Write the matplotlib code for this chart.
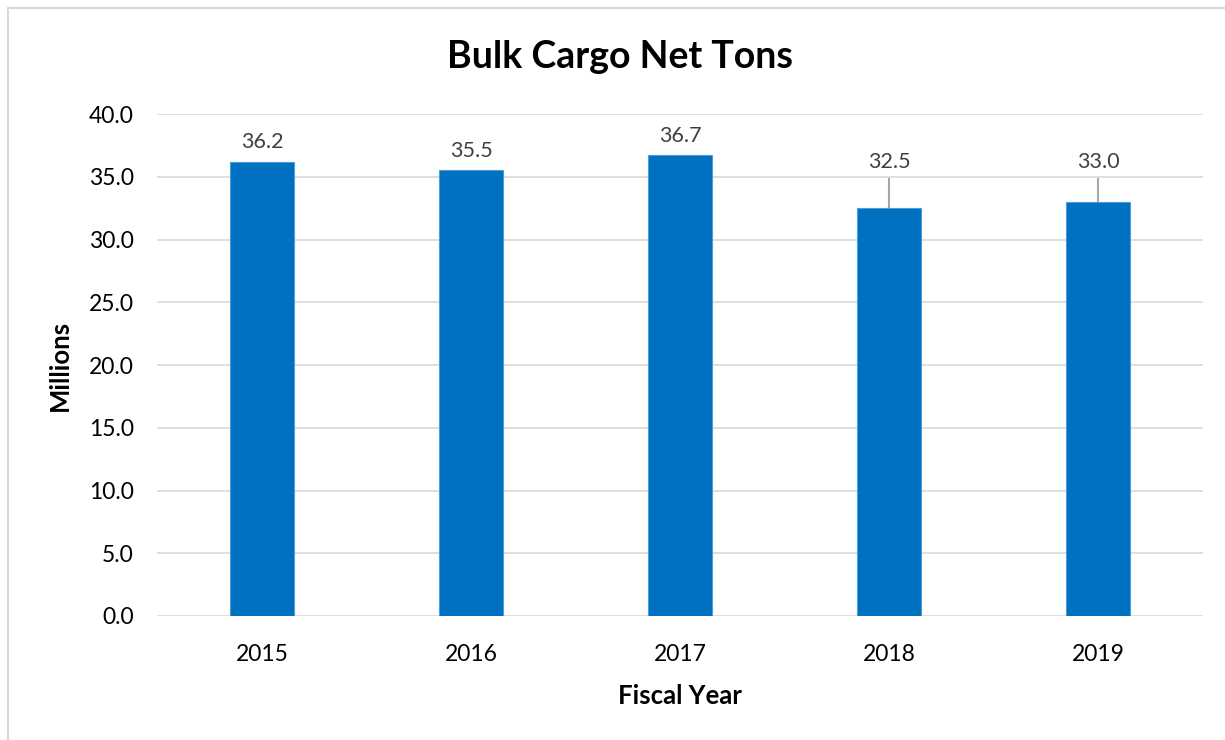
import matplotlib.pyplot as plt
from matplotlib.patches import Rectangle

years = ["2015", "2016", "2017", "2018", "2019"]
tons = [36.2, 35.5, 36.7, 32.5, 33.0]
# labels lifted above the gridline with a leader line
leader_label_y = [None, None, None, 36.2, 36.2]

W, H = 1225, 740
fig = plt.figure(figsize=(W / 100, H / 100), dpi=100)
plt.rcParams['font.family'] = ['Lato', 'DejaVu Sans']

left, right = 157.5, 1202.5
bottom, top = 616, 114
ax = fig.add_axes([left / W, 1 - bottom / H, (right - left) / W, (bottom - top) / H])

x = range(len(years))
ax.bar(x, tons, width=0.31, color="#0070C0", edgecolor="#4B9FD9", linewidth=0.8, zorder=3)
ax.set_xlim(-0.5, len(years) - 0.5)
ax.set_ylim(0, 40)
ax.set_yticks([i * 5 for i in range(9)])
ax.set_yticklabels([f"{i * 5:.1f}" for i in range(9)], fontsize=16.5)
ax.set_xticks(list(x))
ax.set_xticklabels(years, fontsize=16.5)
ax.tick_params(length=0)
ax.tick_params(axis='x', pad=20)
ax.tick_params(axis='y', pad=17)
ax.grid(axis='y', color="#D9D9D9", linewidth=1.2, zorder=0)
for s in ax.spines.values():
    s.set_visible(False)

for i, v in enumerate(tons):
    ly = leader_label_y[i]
    if ly is None:
        ax.text(i, v + 0.75, f"{v:.1f}", ha='center', va='bottom', fontsize=15.5, color="#404040")
    else:
        ax.text(i, ly, f"{v:.1f}", ha='center', va='center', fontsize=15.5, color="#404040")
        ax.plot([i, i], [v, 34.8], color="#A6A6A6", linewidth=1.5, zorder=2)

ax.set_ylabel("Millions", fontsize=18.5, fontweight='bold', labelpad=12)
ax.set_xlabel("Fiscal Year", fontsize=18.5, fontweight='bold', labelpad=14)
fig.text(620 / W, 1 - 57 / H, "Bulk Cargo Net Tons", ha='center', va='center',
         fontsize=27, fontweight='bold')

fig.patches.append(Rectangle((8 / W, -0.1), 1.2, 1 - 8 / H + 0.1, transform=fig.transFigure,
                             fill=False, edgecolor="#D9D9D9", linewidth=1.5))

fig.savefig("out.png", dpi=100, facecolor="white")
